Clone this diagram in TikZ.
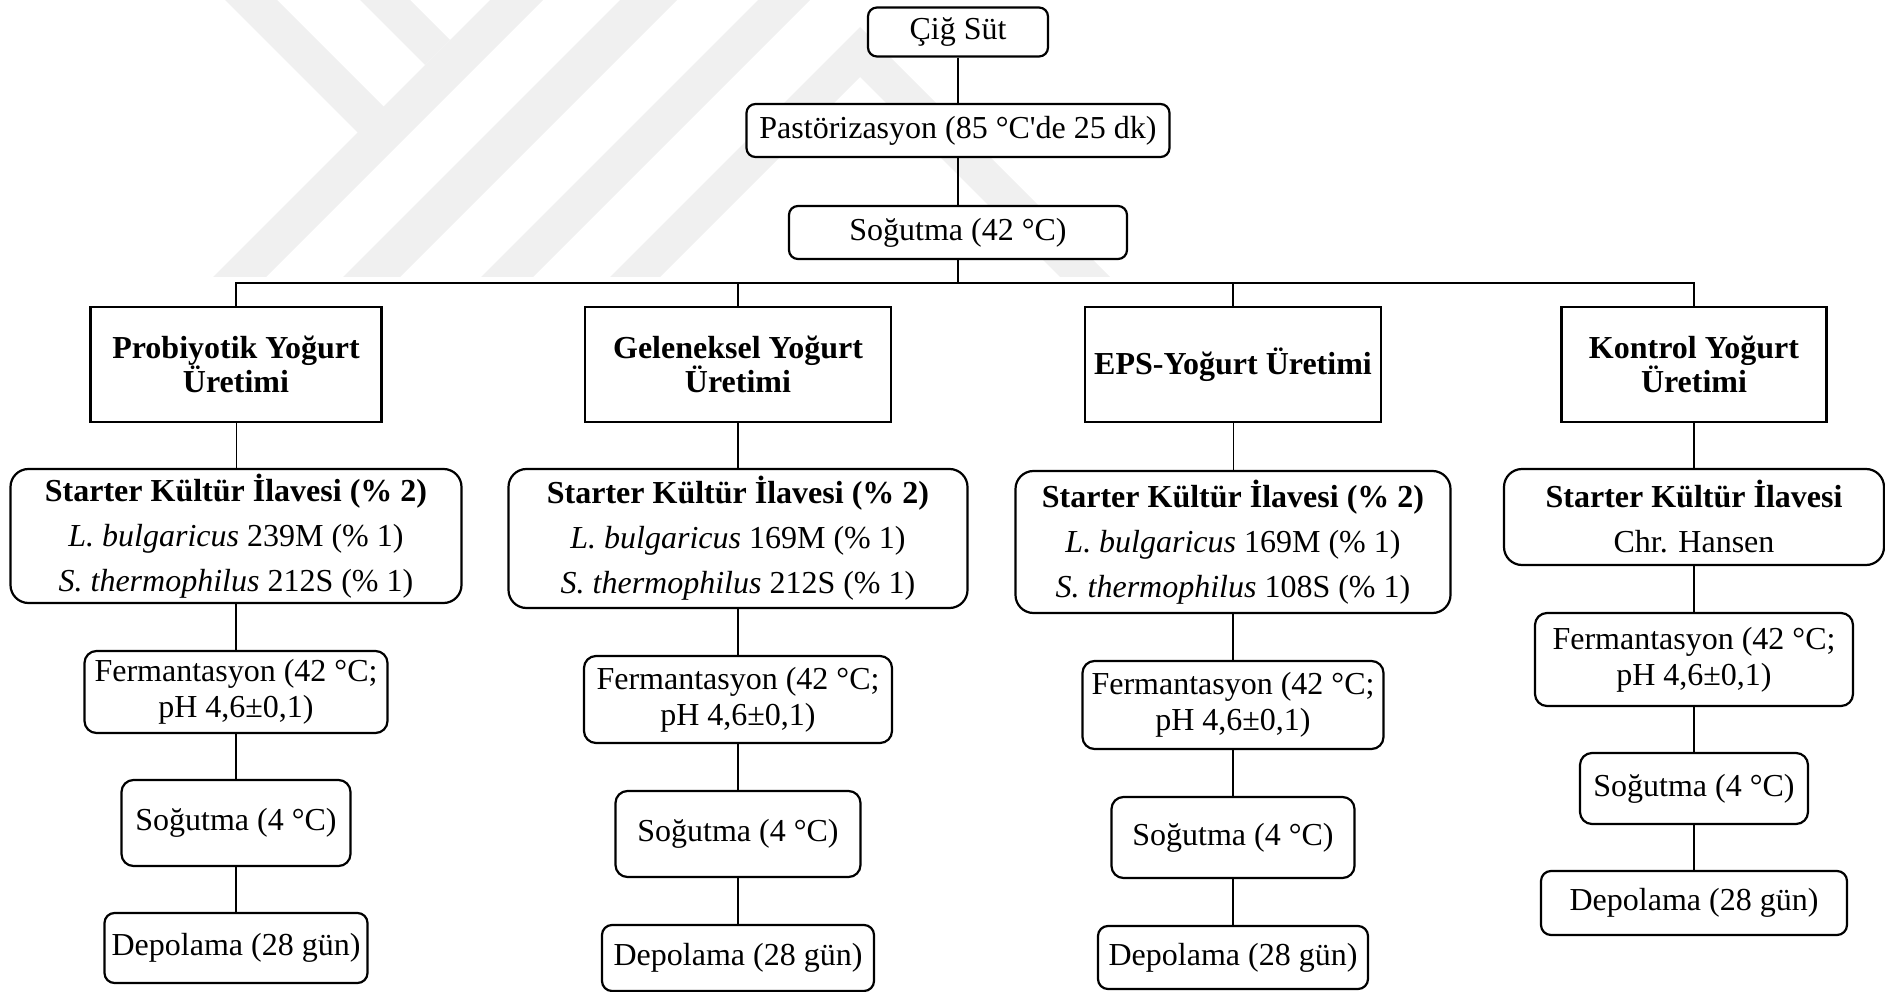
\documentclass[tikz,border=0pt]{standalone}
\usepackage{fontspec}
\setmainfont{Liberation Serif}[Ligatures=TeXOff]
\definecolor{wm}{RGB}{240,240,240}
\begin{document}
\begin{tikzpicture}[x=1pt,y=-1pt,
  box/.style={draw, fill=white, line width=2.2pt, rounded corners=9pt, align=center, inner sep=0pt, font=\fontsize{32}{36}\selectfont},
  hdr/.style={draw, fill=white, line width=2.2pt, align=center, inner sep=0pt, font=\bfseries\fontsize{32}{33}\selectfont},
  starter/.style={box, rounded corners=18pt, font=\fontsize{32}{45}\selectfont},
  link/.style={line width=2pt},
  thinlink/.style={line width=1pt},
  buslink/.style={line width=2.6pt},
  wmark/.style={fill=wm, draw=none}]
\useasboundingbox (0,0) rectangle (1885,992);
% watermark
\fill[wmark] (213,277) -- (266,277) -- (543,0) -- (490,0) -- cycle;
\fill[wmark] (225,0) -- (277,0) -- (384,107) -- (358,133) -- cycle;
\fill[wmark] (360,0) -- (410,0) -- (450,40) -- (425,65) -- cycle;
\fill[wmark] (343,277) -- (400,277) -- (677,0) -- (620,0) -- cycle;
\fill[wmark] (481,277) -- (533,277) -- (810,0) -- (758,0) -- cycle;
\fill[wmark] (610,277) -- (860,27) -- (1110,277) -- (1060,277) -- (860,77) -- (660,277) -- cycle;
% top chain
\node[box, minimum width=180pt, minimum height=49pt] (cig) at (958,32) {Çiğ Süt};
\node[box, minimum width=423pt, minimum height=53pt] (past) at (958,130.5) {Pastörizasyon (85 °C'de 25 dk)};
\node[box, minimum width=338pt, minimum height=53pt] (sog) at (958,232.5) {Soğutma (42 °C)};
\coordinate (bus) at (958,283);
% headers
\node[hdr, minimum width=291pt, minimum height=115pt] (h1) at (236,364.5) {Probiyotik Yoğurt\\Üretimi};
\node[hdr, minimum width=306pt, minimum height=115pt] (h2) at (738,364.5) {Geleneksel Yoğurt\\Üretimi};
\node[hdr, minimum width=296pt, minimum height=115pt] (h3) at (1233,364.5) {EPS-Yoğurt Üretimi};
\node[hdr, minimum width=265pt, minimum height=115pt] (h4) at (1694,364.5) {Kontrol Yoğurt\\Üretimi};
% starters
\node[starter, minimum width=451pt, minimum height=134pt] (s1) at (236,536) {\textbf{Starter Kültür İlavesi (\% 2)}\\\textit{L. bulgaricus} 239M (\% 1)\\\textit{S. thermophilus} 212S (\% 1)};
\node[starter, minimum width=459pt, minimum height=139pt] (s2) at (738,538.5) {\textbf{Starter Kültür İlavesi (\% 2)}\\\textit{L. bulgaricus} 169M (\% 1)\\\textit{S. thermophilus} 212S (\% 1)};
\node[starter, minimum width=435pt, minimum height=142pt] (s3) at (1233,542) {\textbf{Starter Kültür İlavesi (\% 2)}\\\textit{L. bulgaricus} 169M (\% 1)\\\textit{S. thermophilus} 108S (\% 1)};
\node[starter, minimum width=380pt, minimum height=96pt] (s4) at (1694,517) {\textbf{Starter Kültür İlavesi}\\Chr. Hansen};
% fermentation
\node[box, rounded corners=12pt, minimum width=303pt, minimum height=82pt] (f1) at (236,692) {Fermantasyon (42 °C;\\pH 4,6±0,1)};
\node[box, rounded corners=12pt, minimum width=308pt, minimum height=87pt] (f2) at (738,699.5) {Fermantasyon (42 °C;\\pH 4,6±0,1)};
\node[box, rounded corners=12pt, minimum width=301pt, minimum height=88pt] (f3) at (1233,705) {Fermantasyon (42 °C;\\pH 4,6±0,1)};
\node[box, rounded corners=12pt, minimum width=318pt, minimum height=93pt] (f4) at (1694,659.5) {Fermantasyon (42 °C;\\pH 4,6±0,1)};
% cooling
\node[box, rounded corners=12pt, minimum width=229pt, minimum height=86pt] (c1) at (236,823) {Soğutma (4 °C)};
\node[box, rounded corners=12pt, minimum width=245pt, minimum height=86pt] (c2) at (738,834) {Soğutma (4 °C)};
\node[box, rounded corners=12pt, minimum width=243pt, minimum height=81pt] (c3) at (1233,837.5) {Soğutma (4 °C)};
\node[box, rounded corners=12pt, minimum width=228pt, minimum height=71pt] (c4) at (1694,788.5) {Soğutma (4 °C)};
% storage
\node[box, rounded corners=10pt, minimum width=263pt, minimum height=70pt] (d1) at (236,948) {Depolama (28 gün)};
\node[box, rounded corners=10pt, minimum width=272pt, minimum height=66pt] (d2) at (738,958) {Depolama (28 gün)};
\node[box, rounded corners=10pt, minimum width=270pt, minimum height=63pt] (d3) at (1233,957.5) {Depolama (28 gün)};
\node[box, rounded corners=10pt, minimum width=306pt, minimum height=64pt] (d4) at (1694,903) {Depolama (28 gün)};
% connectors
\draw[link] (cig.south) -- (past.north);
\draw[link] (past.south) -- (sog.north);
\draw[link] (sog.south) -- (bus);
\draw[buslink] (h1.north) |- (bus) -| (h4.north);
\draw[link] (h2.north) -- (h2.north |- bus);
\draw[link] (h3.north) -- (h3.north |- bus);
\draw[thinlink] (h1.south) -- (s1.north);
\draw[link] (h2.south) -- (s2.north);
\draw[thinlink] (h3.south) -- (s3.north);
\draw[link] (h4.south) -- (s4.north);
\foreach \i in {1,2,3,4} {
  \draw[link] (s\i.south) -- (f\i.north);
  \draw[link] (f\i.south) -- (c\i.north);
  \draw[link] (c\i.south) -- (d\i.north);
}
\end{tikzpicture}
\end{document}
